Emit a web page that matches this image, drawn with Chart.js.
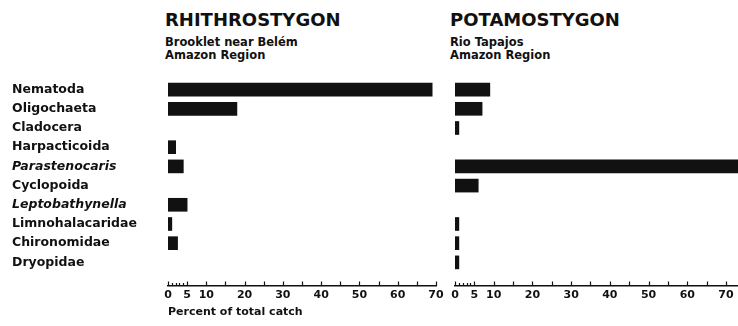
<!DOCTYPE html>
<html>
<head>
<meta charset="utf-8">
<script src="https://cdn.jsdelivr.net/npm/chart.js@4.4.0/dist/chart.umd.min.js"></script>
<style>
  html, body { margin: 0; padding: 0; background: #fff; }
  #wrap { position: relative; width: 738px; height: 326px; overflow: hidden;
          font-family: 'DejaVu Sans', sans-serif; color: #111; }
  .txt { position: absolute; font-weight: bold; white-space: nowrap; }
  .head { font-size: 18px; line-height: 18px; top: 11px; }
  .sub { font-size: 11.5px; line-height: 13.3px; top: 36px; }
  .box { position: absolute; top: 0; height: 326px; }
</style>
</head>
<body>
<div id="wrap">
  <div class="txt head" style="left:165px">RHITHROSTYGON</div>
  <div class="txt sub" style="left:165px">Brooklet near Belém<br>Amazon Region</div>
  <div class="txt head" style="left:450px">POTAMOSTYGON</div>
  <div class="txt sub" style="left:450px">Rio Tapajos<br>Amazon Region</div>
  <div class="box" style="left:0;width:450px"><canvas id="rhithro"></canvas></div>
  <div class="box" style="left:440px;width:298px"><canvas id="potamo"></canvas></div>
</div>
<script>
// Taxa, top to bottom
const categories = ['Nematoda', 'Oligochaeta', 'Cladocera', 'Harpacticoida', 'Parastenocaris',
                    'Cyclopoida', 'Leptobathynella', 'Limnohalacaridae', 'Chironomidae', 'Dryopidae'];
const italicTaxa = ['Parastenocaris', 'Leptobathynella'];

// Percent of total catch (null = not taken at that site)
const rhithrostygonPct = [69, 18, null, 2, 4, null, 5, 1, 2.5, null];
const potamostygonPct  = [9, 7, 1, null, 75, 6, null, 1, 1, 1];

// Axis marks and the values that carry a label
const axisMarks  = [0, 1, 2, 3, 4, 5, 10, 15, 20, 25, 30, 35, 40, 45, 50, 55, 60, 65, 70];
const axisLabels = [0, 5, 10, 20, 30, 40, 50, 60, 70];

const INK = '#111';
const FAMILY = "'DejaVu Sans', sans-serif";

// Short tick marks standing up from the axis line
const upTicks = {
  id: 'upTicks',
  afterDatasetsDraw(chart) {
    const xs = chart.scales.x;
    const y0 = chart.chartArea.bottom;
    const ctx = chart.ctx;
    ctx.save();
    ctx.strokeStyle = INK;
    ctx.lineWidth = 1.2;
    axisMarks.forEach(v => {
      const px = Math.round(xs.getPixelForValue(v)) + 0.5;
      const len = (v > 0 && v < 5) ? 3 : 4.5;
      ctx.beginPath();
      ctx.moveTo(px, y0);
      ctx.lineTo(px, y0 - len);
      ctx.stroke();
    });
    ctx.restore();
  }
};

function labelFont(ctx) {
  const name = ctx && ctx.tick ? categories[ctx.tick.value] : '';
  return {
    family: FAMILY, size: 12.5, weight: 'bold',
    style: italicTaxa.includes(name) ? 'italic' : 'normal'
  };
}

function makeChart(id, values, opts) {
  return new Chart(document.getElementById(id), {
    type: 'bar',
    data: {
      datasets: [{
        data: values.map((v, i) => ({ x: v, y: i })),
        backgroundColor: INK,
        borderWidth: 0,
        barThickness: 13
      }]
    },
    plugins: [upTicks],
    options: {
      indexAxis: 'y',
      responsive: true,
      maintainAspectRatio: false,
      animation: false,
      layout: { padding: opts.padding },
      plugins: { legend: { display: false }, tooltip: { enabled: false } },
      scales: {
        x: {
          type: 'linear',
          offset: false,
          min: 0,
          max: opts.xMax,
          afterBuildTicks: s => { s.ticks = axisLabels.map(v => ({ value: v })); },
          afterFit: s => { s.height = 40; },
          grid: { display: false, drawTicks: false },
          border: { display: true, color: INK, width: 1.6 },
          ticks: {
            autoSkip: false, maxRotation: 0, padding: 3, color: INK,
            font: { family: FAMILY, size: 11, weight: 'bold' }
          },
          title: {
            display: opts.showTitle,
            text: 'Percent of total catch',
            align: 'start',
            color: INK,
            font: { family: FAMILY, size: 11, weight: 'bold' },
            padding: { top: 0, bottom: 7 }
          }
        },
        y: {
          type: 'linear',
          offset: false,
          reverse: true,
          min: -0.5,
          max: 10.23,
          display: opts.showLabels,
          afterBuildTicks: s => { s.ticks = categories.map((_, i) => ({ value: i })); },
          afterFit: s => { s.width = opts.showLabels ? 156 : 0; },
          grid: { display: false, drawTicks: false, offset: false },
          border: { display: false },
          ticks: {
            autoSkip: false,
            crossAlign: 'far',
            color: INK,
            callback: v => categories[v],
            font: labelFont
          }
        }
      }
    }
  });
}

makeChart('rhithro', rhithrostygonPct, {
  xMax: 70, showLabels: true, showTitle: true,
  padding: { left: 12, right: 14, top: 80, bottom: 0 }
});
makeChart('potamo', potamostygonPct, {
  xMax: 73.1, showLabels: false, showTitle: false,
  padding: { left: 15, right: 0, top: 80, bottom: 0 }
});
</script>
</body>
</html>
